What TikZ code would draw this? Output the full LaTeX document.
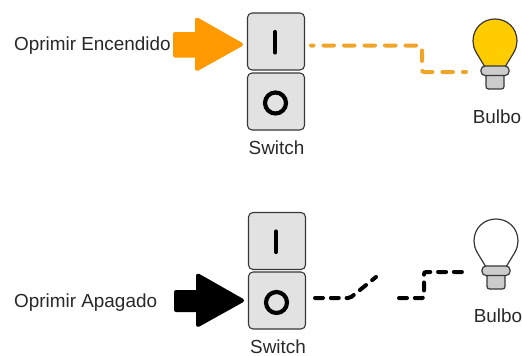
\documentclass[tikz,border=0pt]{standalone}
\usepackage{fontspec}
\setmainfont{Liberation Sans}
\definecolor{arrowor}{RGB}{255,153,0}
\definecolor{wireor}{RGB}{240,165,40}
\definecolor{bulby}{RGB}{255,204,0}
\definecolor{keyg}{RGB}{226,226,226}
\definecolor{baseg}{RGB}{204,204,204}
\definecolor{edgeg}{RGB}{55,55,55}
\definecolor{txt}{RGB}{40,40,40}
\tikzset{
  keybox/.style={draw=edgeg,fill=keyg,line width=1.1pt,rounded corners=4.5pt,minimum width=57pt,minimum height=57pt,inner sep=0pt},
  lbl/.style={font=\fontsize{18.9}{20}\selectfont,text=txt,inner sep=0pt},
  wire/.style={line width=4pt,line cap=round,dash pattern=on 8pt off 7.8pt,rounded corners=2pt},
  wireorange/.style={line width=4pt,line cap=round,dash pattern=on 10.5pt off 10pt,dash phase=8pt,rounded corners=2pt},
  pbar/.style={line width=4.2pt,line cap=round,draw=black},
  pring/.style={line width=4.2pt,draw=black,fill=none,circle,minimum size=21pt,inner sep=0pt},
  bigarrow/.style={line width=4pt,line join=round},
}
\newcommand{\bulbshape}[3]{%
  \begin{scope}[shift={(#1,#2)}]
    \draw[edgeg,line width=1.2pt,fill=#3] (485,67) -- (476.5,53) .. controls (474,48.5) and (473,45) .. (473,41)
      .. controls (473,28) and (483,19) .. (495,19) .. controls (507,19) and (517,28) .. (517,41)
      .. controls (517,45) and (516,48.5) .. (513.5,53) -- (505,67) -- cycle;
    \draw[edgeg,line width=1.2pt,fill=baseg,rounded corners=2.5pt] (486,74) -- (486,89) -- (504,89) -- (504,74) -- cycle;
    \draw[edgeg,line width=1.2pt,fill=baseg,rounded corners=4pt] (481,66) rectangle (509,75.5);
  \end{scope}}
\begin{document}
\begin{tikzpicture}[x=1pt,y=-1pt]
\useasboundingbox (0,0) rectangle (522,356);
% top group
\node[keybox] (ton) at (276,41.5) {};
\node[keybox] (toff) at (276,101.5) {};
\node[lbl] (tsw) at (276.5,148) {Switch};
\node[lbl,anchor=west] (tpress) at (14,45.5) {Oprimir Encendido};
\node[lbl] (tbulb) at (497,116.5) {Bulbo};
\draw[pbar] (275,32) -- (275,52.5);
\node[pring] (tring) at (275.5,103) {};
\fill[arrowor,draw=arrowor,bigarrow] (175,34) -- (197,34) -- (197,19.5) -- (241,44.5) -- (197,69) -- (197,55.5) -- (175,55.5) -- cycle;
\bulbshape{0}{0}{bulby}
\coordinate (ta) at (311,45.5);
\coordinate (tb) at (422,45.5);
\coordinate (tc) at (422,72);
\coordinate (td) at (466,72);
\draw[wireorange,wireor] (ta) -- (tb) -- (tc) -- (td);
% bottom group
\node[keybox] (bon) at (277,241) {};
\node[keybox] (boff) at (277,300.5) {};
\node[lbl] (bsw) at (278,346.5) {Switch};
\node[lbl,anchor=west] (bpress) at (14,302.5) {Oprimir Apagado};
\node[lbl] (bbulb) at (498,315.5) {Bulbo};
\draw[pbar] (276,231.5) -- (276,252);
\node[pring] (bring) at (276.5,302.5) {};
\fill[black,draw=black,bigarrow] (176,292) -- (198,292) -- (198,275.5) -- (242,300.5) -- (198,325) -- (198,310) -- (176,310) -- cycle;
\bulbshape{1}{200}{white}
\coordinate (ba) at (315,298);
\coordinate (bb) at (350,298);
\coordinate (bc) at (376,277);
\coordinate (bd) at (399,298);
\coordinate (be) at (424,298);
\coordinate (bf) at (424,272);
\coordinate (bg) at (467,272);
\draw[wire,black] (ba) -- (bb) -- (bc);
\draw[wire,black] (bd) -- (be) -- (bf) -- (bg);
\end{tikzpicture}
\end{document}
